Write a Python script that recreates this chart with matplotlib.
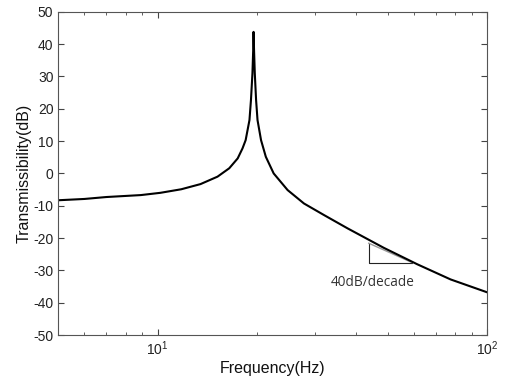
import numpy as np
import matplotlib
matplotlib.use("Agg")
import matplotlib.pyplot as plt
from matplotlib.ticker import LogLocator, MultipleLocator

# -----------------------
# Data
# -----------------------
freq_hz = [5.0, 6.0, 7.0, 8.9, 10.2, 11.8, 13.5, 15.2, 16.5, 17.5, 18.1,
           18.5, 19.0, 19.2, 19.4, 19.5, 19.55, 19.62, 19.72, 19.9, 20.1,
           20.6, 21.3, 22.5, 24.8, 27.8, 32.0, 37.7, 48.5, 61.3, 77.4, 100.0]
trans_db = [-8.3, -7.9, -7.3, -6.7, -6.0, -4.9, -3.3, -1.0, 1.6, 4.65, 7.75,
            10.3, 16.5, 22.7, 31.0, 38.0, 43.8, 38.0, 31.0, 22.7, 16.5,
            10.3, 5.15, 0.0, -5.15, -9.3, -12.9, -17.0, -23.0, -28.1, -32.8, -36.8]

# slope marker triangle
tri_f = [43.7, 43.7, 59.2]
tri_db = [-21.6, -27.6, -27.6]
slope_label = "40dB/decade"
slope_label_pos = (44.8, -33.8)

XLIM = (5, 100)
YLIM = (-50, 50)

# -----------------------
# Plot
# -----------------------
plt.rcParams["font.family"] = ["Liberation Sans", "DejaVu Sans"]
plt.rcParams["axes.unicode_minus"] = False

fig = plt.figure(figsize=(5.06, 3.82), dpi=100)
ax = fig.add_axes([0.1152, 0.123, 0.8478, 0.846])

# triangle: black legs, gray hypotenuse
ax.plot(tri_f, tri_db, color="#222222", lw=0.8)
ax.plot([tri_f[0], tri_f[2]], [tri_db[0], tri_db[2]], color="#999999", lw=1.0)

ax.semilogx(freq_hz, trans_db, color="black", lw=1.5)

ax.text(*slope_label_pos, slope_label, ha="center", va="center",
        fontsize=9.8, family="Open Sans", color="#333333")

ax.set_xlim(*XLIM)
ax.set_ylim(*YLIM)
ax.yaxis.set_major_locator(MultipleLocator(10))
ax.xaxis.set_major_locator(LogLocator(base=10))
ax.xaxis.set_minor_locator(LogLocator(base=10, subs=np.arange(2, 10)))

ax.tick_params(which="both", direction="in", top=True, right=True,
               colors="#444444", labelcolor="#222222", labelsize=10)
ax.tick_params(which="major", length=4)
ax.tick_params(which="minor", length=2.5)
for s in ax.spines.values():
    s.set_color("#555555")
    s.set_linewidth(0.8)

ax.set_xlabel("Frequency(Hz)", fontsize=11.5, color="#111111", labelpad=2)
ax.set_ylabel("Transmissibility(dB)", fontsize=11.5, color="#111111", labelpad=1)

fig.savefig("out.png", dpi=100)
